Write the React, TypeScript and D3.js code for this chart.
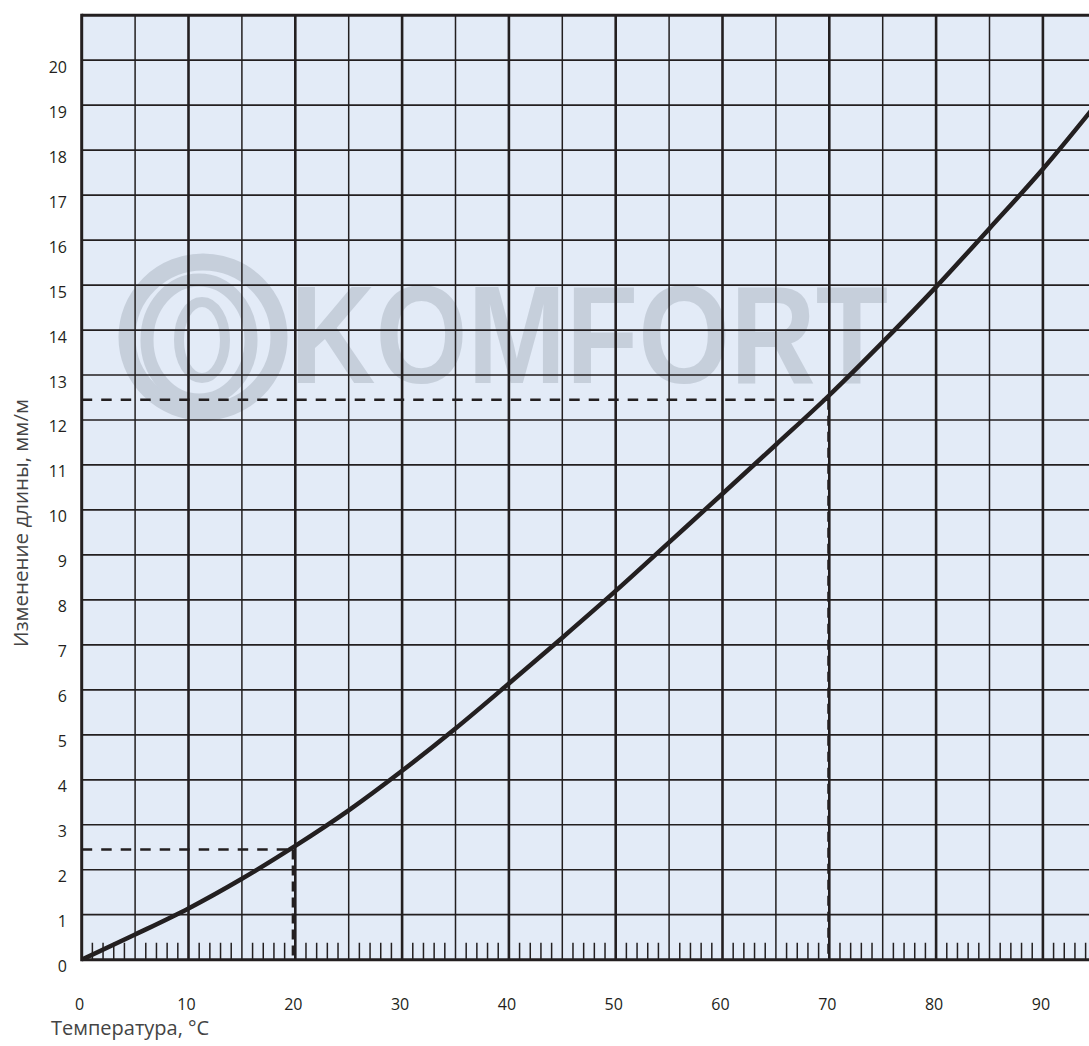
import React from 'react';
import * as d3 from 'd3';

const W = 1089;
const H = 1046;

// Curve: temperature (°C) vs elongation (mm/m)
const temperatures = [0, 5, 10, 15, 20, 25, 30, 35, 40, 45, 50, 55, 60, 65, 70, 75, 80, 85, 90, 95];
const elongation = [0, 0.56, 1.14, 1.8, 2.53, 3.32, 4.2, 5.14, 6.14, 7.16, 8.2, 9.28, 10.36, 11.45, 12.55, 13.73, 14.96, 16.26, 17.58, 19.02];

const xTickValues = [0, 10, 20, 30, 40, 50, 60, 70, 80, 90];
const yTickValues = [0, 1, 2, 3, 4, 5, 6, 7, 8, 9, 10, 11, 12, 13, 14, 15, 16, 17, 18, 19, 20];

// Example read-offs (dashed helper lines)
const guideTemps = [19.8, 69.9];
const guideValues = [2.45, 12.45];

const xTitle = 'Температура, °C';
const yTitle = 'Изменение длины, мм/м';
const watermark = 'KOMFORT';

const INK = '#231f20';
const FONT = "'Open Sans', sans-serif";

export default function App() {
  const x = d3.scaleLinear().domain([0, 100]).range([81.7, 81.7 + 1068]);
  const y = d3.scaleLinear().domain([0, 21]).range([959.7, 15.2]);

  const x0 = x(0);
  const xEnd = x(100);
  const yTop = y(21);
  const yBot = y(0);

  const line = d3
    .line<number>()
    .x((_, i) => x(temperatures[i]))
    .y((d) => y(d))
    .curve(d3.curveMonotoneX);

  const vLines = d3.range(5, 100, 5);
  const hLines = d3.range(1, 21, 1);
  const minor = d3.range(1, 100).filter((t) => t % 5 !== 0);

  return (
    <div style={{ position: 'absolute', left: 0, top: 0 }}>
      <svg width={W} height={H} style={{ display: 'block', background: '#ffffff' }}>
        <defs>
          <clipPath id="plot">
            <rect x={x0} y={yTop} width={xEnd - x0} height={yBot - yTop} />
          </clipPath>
        </defs>
        <rect x={x0} y={yTop} width={xEnd - x0} height={yBot - yTop} fill="#e3ebf7" />

        {/* watermark */}
        <g clipPath="url(#plot)" opacity={0.5} fill="none" stroke="#aab4c1">
          <ellipse cx={203} cy={337} rx={76} ry={75} strokeWidth={17} />
          <ellipse cx={199} cy={340} rx={52} ry={60} strokeWidth={13} />
          <ellipse cx={202} cy={340} rx={23} ry={38} strokeWidth={10} />
          <text
            x={290}
            y={383}
            fill="#aab4c1"
            stroke="none"
            fontFamily="'Liberation Sans', Arial, sans-serif"
            fontWeight="bold"
            fontSize={140}
            textLength={598}
            lengthAdjust="spacingAndGlyphs"
          >
            {watermark}
          </text>
        </g>

        <g clipPath="url(#plot)">
          {hLines.map((v) => (
            <line key={'h' + v} x1={x0} x2={xEnd} y1={y(v)} y2={y(v)} stroke={INK} strokeWidth={1.7} />
          ))}
          {vLines.map((t) => (
            <line
              key={'v' + t}
              x1={x(t)}
              x2={x(t)}
              y1={yTop}
              y2={yBot}
              stroke={INK}
              strokeWidth={t % 10 === 0 ? 2.6 : 1.5}
            />
          ))}
          {minor.map((t) => (
            <line key={'m' + t} x1={x(t)} x2={x(t)} y1={yBot} y2={yBot - 17} stroke={INK} strokeWidth={1.5} />
          ))}

          {guideTemps.map((t, i) => (
            <g key={'g' + i}>
              <line
                x1={x0}
                x2={x(t)}
                y1={y(guideValues[i])}
                y2={y(guideValues[i])}
                stroke={INK}
                strokeWidth={2.5}
                strokeDasharray="10.5,9"
              />
              <line
                x1={x(t)}
                x2={x(t)}
                y1={y(guideValues[i])}
                y2={yBot}
                stroke={INK}
                strokeWidth={i === 0 ? 3 : 2}
                strokeDasharray="10,6"
              />
            </g>
          ))}

          <path d={line(elongation) || ''} fill="none" stroke={INK} strokeWidth={4.5} strokeLinecap="round" />
        </g>

        {/* frame */}
        <line x1={x0} x2={x0} y1={yTop - 1.5} y2={yBot + 1.5} stroke={INK} strokeWidth={3} />
        <line x1={x0} x2={xEnd} y1={yTop} y2={yTop} stroke={INK} strokeWidth={3} />
        <line x1={x0} x2={xEnd} y1={yBot} y2={yBot} stroke={INK} strokeWidth={3} />

        {/* y tick labels */}
        {yTickValues.map((v) => (
          <text key={'yl' + v} x={67} y={y(v) + 12.5} textAnchor="end" fontFamily={FONT} fontSize={16} fill={INK}>
            {v}
          </text>
        ))}
        {/* x tick labels */}
        {xTickValues.map((t) => (
          <text key={'xl' + t} x={x(t) - 2} y={1010} textAnchor="middle" fontFamily={FONT} fontSize={16} fill={INK}>
            {t}
          </text>
        ))}

        <text x={51} y={1035} fontFamily={FONT} fontSize={20} fill="#444444">
          {xTitle}
        </text>
        <text
          transform={`translate(28,523) rotate(-90)`}
          textAnchor="middle"
          fontFamily={FONT}
          fontSize={20.5}
          fill="#444444"
        >
          {yTitle}
        </text>
      </svg>
    </div>
  );
}
